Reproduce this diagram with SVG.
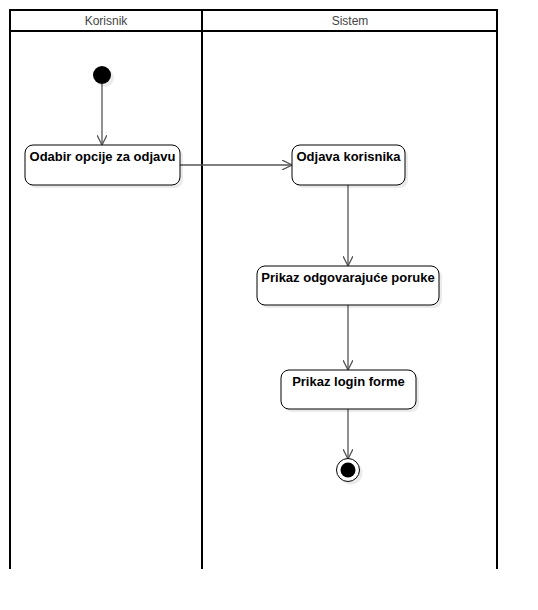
<svg xmlns="http://www.w3.org/2000/svg" width="538" height="610" viewBox="0 0 538 610">
<style>
.lane{fill:none;stroke:#000;stroke-width:2}
.hdr{font-family:"Liberation Sans",Arial,sans-serif;font-size:12px;fill:#444;text-anchor:middle}
.box{fill:#fff;stroke:#000;stroke-width:1}
.sh{fill:#000;opacity:0.08}
.lbl{font-family:"Liberation Sans",Arial,sans-serif;font-size:13px;font-weight:bold;fill:#000;text-anchor:middle}
.edge{fill:none;stroke:#555;stroke-width:1.3}
</style>
<defs>
<marker id="open" viewBox="0 0 10 10" refX="10" refY="5" markerWidth="10" markerHeight="10" markerUnits="userSpaceOnUse" orient="auto">
<path d="M0,0 L10,5 L0,10" fill="none" stroke="#555" stroke-width="1.3"/>
</marker>
</defs>
<rect width="538" height="610" fill="#fff"/>
<g id="lanes">
<path class="lane" d="M10,569 V10 H497 V569 M202,10 V569 M10,31 H497"/>
<text class="hdr" x="106" y="25">Korisnik</text>
<text class="hdr" x="350" y="25">Sistem</text>
</g>
<g id="connectors">
<path class="edge" d="M102,84 V145" marker-end="url(#open)"/>
<path class="edge" d="M180,165 H292" marker-end="url(#open)"/>
<path class="edge" d="M348,185 V266" marker-end="url(#open)"/>
<path class="edge" d="M348,305 V370" marker-end="url(#open)"/>
<path class="edge" d="M348,409 V459" marker-end="url(#open)"/>
</g>
<g id="start">
<circle class="sh" cx="105" cy="78" r="9"/>
<circle cx="102" cy="75" r="9" fill="#000"/>
</g>
<g id="n1">
<rect class="sh" x="28" y="148" width="155" height="40" rx="8"/>
<rect class="box" x="25" y="145" width="155" height="40" rx="8"/>
<text class="lbl" x="102.5" y="161">Odabir opcije za odjavu</text>
</g>
<g id="n2">
<rect class="sh" x="295" y="148" width="113" height="40" rx="8"/>
<rect class="box" x="292" y="145" width="113" height="40" rx="8"/>
<text class="lbl" x="348.5" y="161">Odjava korisnika</text>
</g>
<g id="n3">
<rect class="sh" x="260" y="269" width="182" height="39" rx="8"/>
<rect class="box" x="257" y="266" width="182" height="39" rx="8"/>
<text class="lbl" x="348" y="282">Prikaz odgovarajuće poruke</text>
</g>
<g id="n4">
<rect class="sh" x="284" y="373" width="135" height="39" rx="8"/>
<rect class="box" x="281" y="370" width="135" height="39" rx="8"/>
<text class="lbl" x="348.5" y="386">Prikaz login forme</text>
</g>
<g id="end">
<circle class="sh" cx="351" cy="473" r="11.5"/>
<circle cx="348" cy="470" r="11.5" fill="#fff" stroke="#000" stroke-width="1"/>
<circle cx="348" cy="470" r="7.5" fill="#000"/>
</g>
</svg>
